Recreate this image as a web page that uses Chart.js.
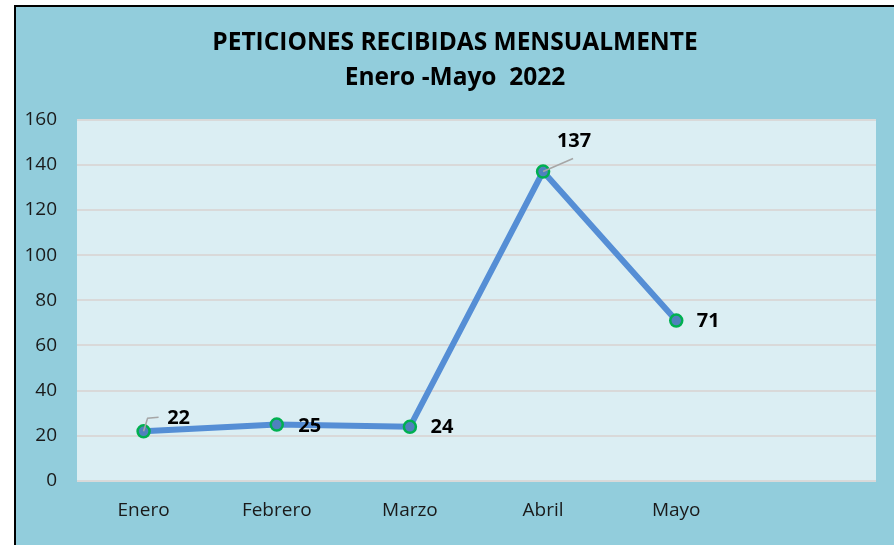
<!DOCTYPE html>
<html>
<head>
<meta charset="utf-8">
<script src="https://cdn.jsdelivr.net/npm/chart.js@4"></script>
<style>
  body { margin: 0; background: #fff; }
  canvas { display: block; }
</style>
</head>
<body>
<canvas id="peticionesChart" width="894" height="545"></canvas>
<script>
// datos del grafico
const meses = ["Enero", "Febrero", "Marzo", "Abril", "Mayo", ""];
const peticiones = [22, 25, 24, 137, 71, null];
const yTicks = [0, 20, 40, 60, 80, 100, 120, 140, 160];

// desplazamiento de cada etiqueta respecto a su punto
const labelOffsets = [[35, -13], [33, 2], [32, 1], [31, -30], [32, 1]];

const fondo = {
  id: "fondo",
  beforeDraw(chart) {
    const c = chart.ctx;
    const a = chart.chartArea;
    c.save();
    c.fillStyle = "#ffffff";
    c.fillRect(0, 0, chart.width, chart.height);
    c.fillStyle = "#92CDDC";
    c.fillRect(16, 7, chart.width - 16, chart.height - 7);
    c.fillStyle = "#000000";
    c.fillRect(14, 5, 2, chart.height - 5);
    c.fillRect(14, 5, chart.width - 14, 2);
    c.fillStyle = "#DBEEF3";
    c.fillRect(a.left, a.top, a.right - a.left, a.bottom - a.top);
    c.restore();
  }
};

const etiquetas = {
  id: "etiquetas",
  afterDatasetsDraw(chart) {
    const c = chart.ctx;
    const pts = chart.getDatasetMeta(0).data;
    c.save();
    // lineas guia para Enero y Abril
    c.strokeStyle = "#A6A6A6";
    c.lineWidth = 1.5;
    c.beginPath();
    c.moveTo(pts[0].x, pts[0].y);
    c.lineTo(pts[0].x + 4, pts[0].y - 13);
    c.lineTo(pts[0].x + 15, pts[0].y - 14);
    c.moveTo(pts[3].x, pts[3].y);
    c.lineTo(pts[3].x + 30, pts[3].y - 13);
    c.stroke();
    c.font = "bold 20px 'Open Sans'";
    c.fillStyle = "#000000";
    c.textAlign = "center";
    c.textBaseline = "middle";
    peticiones.forEach((v, i) => {
      if (v === null) return;
      const p = pts[i];
      c.fillText(String(v), p.x + labelOffsets[i][0], p.y + labelOffsets[i][1]);
    });
    c.restore();
  }
};

new Chart(document.getElementById("peticionesChart"), {
  type: "line",
  data: {
    labels: meses,
    datasets: [{
      data: peticiones,
      borderColor: "#558ED5",
      borderWidth: 6,
      tension: 0,
      pointRadius: 6,
      pointBackgroundColor: "#4F81BD",
      pointBorderColor: "#00B050",
      pointBorderWidth: 2.5
    }]
  },
  options: {
    responsive: false,
    animation: false,
    layout: { padding: { left: 16, right: 0, top: 0, bottom: 0 } },
    plugins: {
      legend: { display: false },
      tooltip: { enabled: false },
      title: {
        display: true,
        text: ["PETICIONES RECIBIDAS MENSUALMENTE", "Enero -Mayo  2022"],
        color: "#000000",
        font: { family: "Open Sans", size: 24.5, weight: "bold", lineHeight: 1.42 },
        padding: { top: 26, bottom: 24 }
      }
    },
    scales: {
      x: {
        offset: true,
        grid: { display: false, drawTicks: false },
        border: { display: false },
        ticks: { color: "#1a1a1a", font: { family: "Open Sans", size: 19 }, padding: 18, maxRotation: 0 },
        afterFit(scale) { scale.height = 64; }
      },
      y: {
        min: 0,
        max: 160,
        afterBuildTicks(scale) { scale.ticks = yTicks.map(v => ({ value: v })); },
        grid: { color: "#D9D9D9", lineWidth: 2, drawTicks: false },
        border: { display: false },
        ticks: { color: "#1a1a1a", font: { family: "Open Sans", size: 19 }, padding: 20 },
        afterFit(scale) { scale.width = 61; }
      },
      // eje derecho vacio, solo deja el margen azul
      yDer: {
        position: "right",
        min: 0,
        max: 160,
        grid: { display: false, drawTicks: false },
        border: { display: false },
        ticks: { display: false },
        afterFit(scale) { scale.width = 18; }
      }
    }
  },
  plugins: [fondo, etiquetas]
});
</script>
</body>
</html>
